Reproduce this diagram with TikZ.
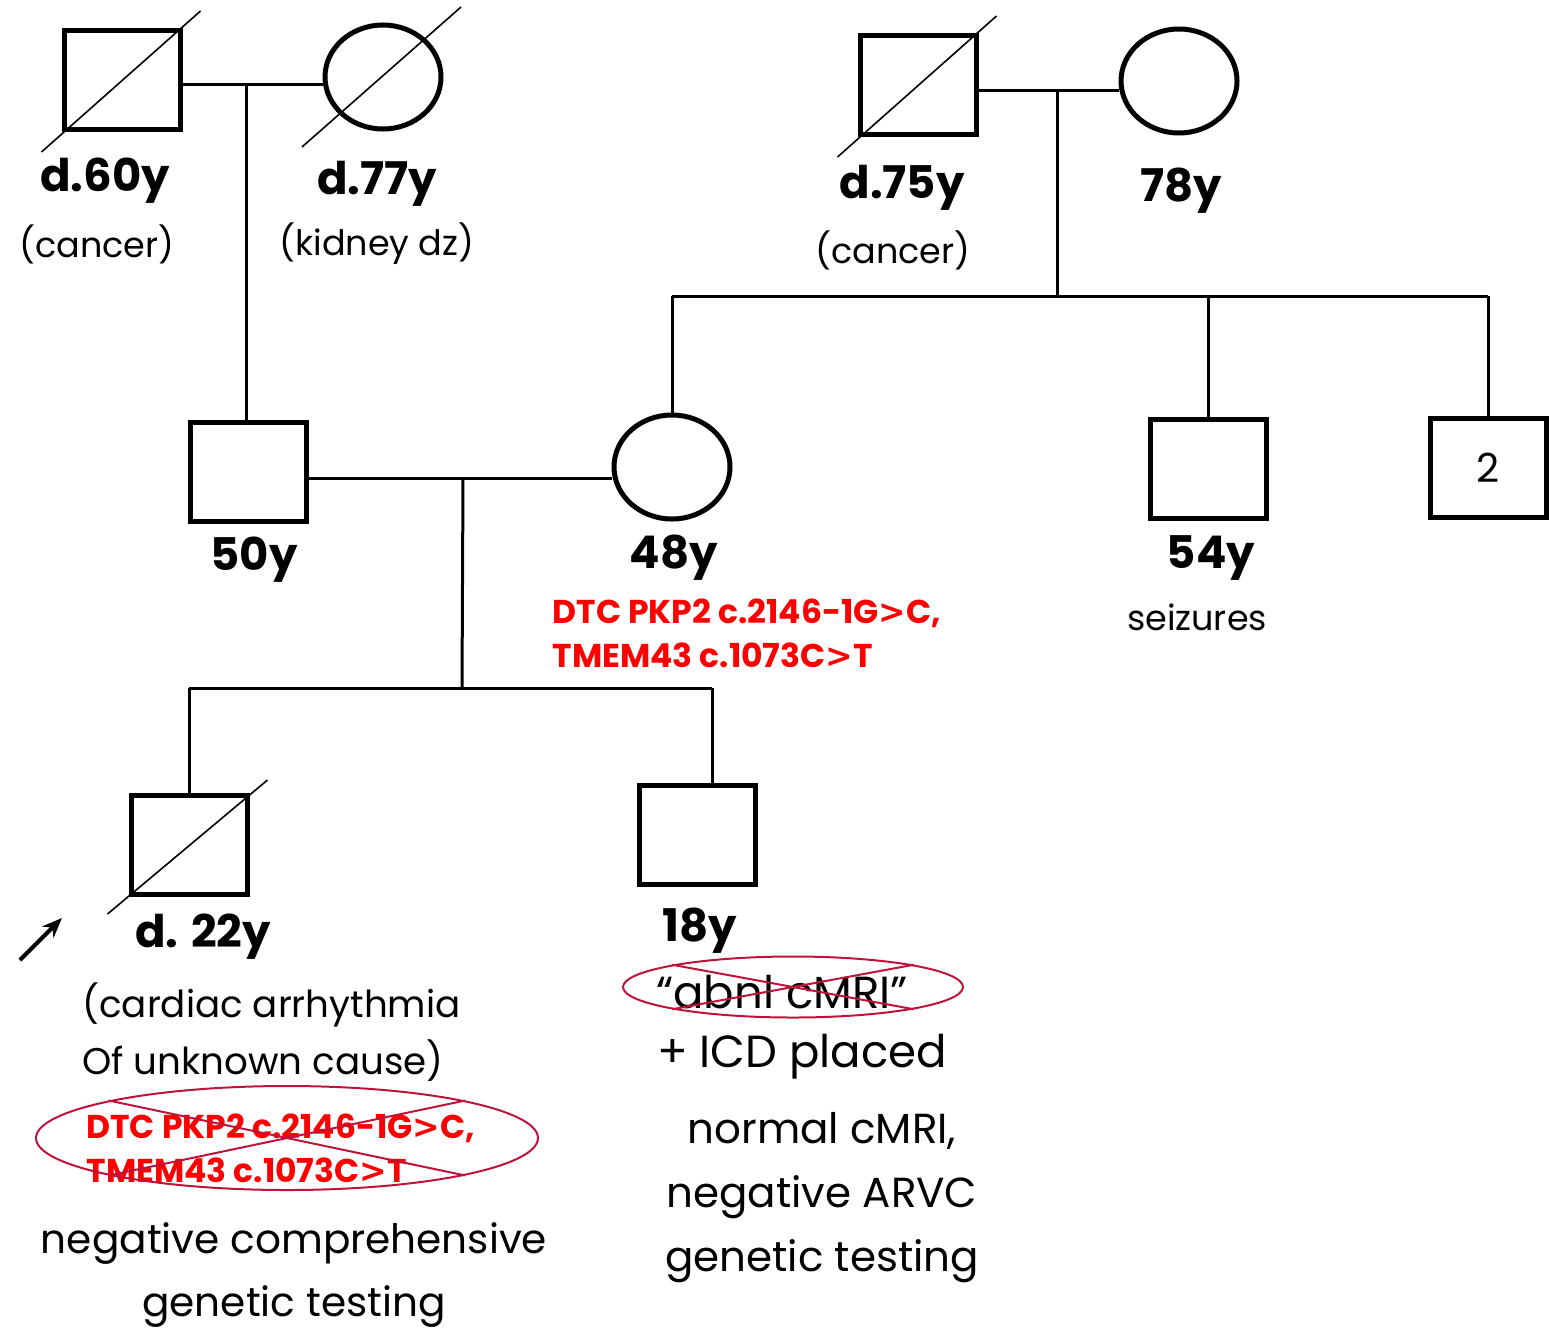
\documentclass[tikz,border=0pt]{standalone}
\usepackage{fontspec}
\setmainfont{Poppins}
\newfontfamily\signfont{DejaVu Sans}
\newcommand{\gtsign}{{\signfont\textgreater}}
\usetikzlibrary{shapes.geometric,calc,arrows.meta}
\definecolor{crossred}{RGB}{190,20,60}

\begin{document}
\begin{tikzpicture}[x=0.5pt,y=-0.5pt,line width=1.5pt]
    \tikzstyle{male node}=[rectangle,draw,line width=2.5pt,minimum width=58pt,minimum height=49.5pt,inner sep=0]
    \tikzstyle{female node}=[ellipse,draw,line width=2.5pt,minimum width=58pt,minimum height=52pt,inner sep=0]
    \tikzstyle{dead line}=[line width=0.8pt]
    \tikzstyle{age}=[font=\fontsize{22.5}{26}\selectfont\bfseries,inner sep=0]
    \tikzstyle{note}=[font=\fontsize{17.5}{20}\selectfont,inner sep=0]
    \tikzstyle{big note}=[font=\fontsize{21}{32}\selectfont,inner sep=0,align=center]
    \tikzstyle{gene}=[font=\fontsize{16.5}{22}\selectfont\bfseries,text=red,inner sep=0,align=left]
    \tikzstyle{crossed}=[ellipse,draw=crossred,line width=1pt,inner sep=0]

    \useasboundingbox (0,0) rectangle (1550,1333);

    % first generation
    \node[male node] (a1) at (122,80) {};
    \node[female node] (a2) at (383,77) {};
    \node[male node] (b1) at (918,85) {};
    \node[female node] (b2) at (1179,81) {};
    \draw[dead line] ($(a1.south west)+(-20,20)$) -- ($(a1.north east)+(18,-17)$);
    \draw[dead line] ($(a2)+(-81,70)$) -- ($(a2)+(78,-70)$);
    \draw[dead line] ($(b1.south west)+(-20,20)$) -- ($(b1.north east)+(18,-17)$);

    \node[age] (a1age) at (105,181) {d.60y};
    \node[note] (a1why) at (97,244) {(cancer)};
    \node[age] (a2age) at (377,184) {d.77y};
    \node[note] (a2why) at (377,244) {(kidney dz)};
    \node[age] (b1age) at (902,188) {d.75y};
    \node[note] (b1why) at (893,250) {(cancer)};
    \node[age] (b2age) at (1181,191) {78y};

    % second generation
    \node[male node] (c1) at (248,472) {};
    \node[female node] (c2) at (672,467) {};
    \node[male node] (c3) at (1208,469) {};
    \node[male node,font=\fontsize{20}{24}\selectfont] (c4) at (1488,468) {2};

    \node[age] (c1age) at (254,560) {50y};
    \node[age] (c2age) at (674,558) {48y};
    \node[gene,anchor=west] (c2gene) at (551,633) {DTC PKP2 c.2146-1G\gtsign C,\\TMEM43 c.1073C\gtsign T};
    \node[age] (c3age) at (1211,558) {54y};
    \node[note] (c3why) at (1197,617) {seizures};

    % third generation
    \node[male node] (d1) at (189,845) {};
    \node[male node] (d2) at (697,835) {};
    \draw[dead line] ($(d1.south west)+(-21,17)$) -- ($(d1.north east)+(18,-13)$);

    \coordinate (p0) at (20,960);
    \coordinate (p1) at (62,918);
    \draw[line width=2pt,-{Stealth[length=10pt,width=8pt]}] (p0) -- (p1);

    \node[age] (d1age) at (203,937) {d. 22y};
    \node[big note,anchor=west,align=left,font=\fontsize{18.6}{28.5}\selectfont] (d1why) at (81,1032) {(cardiac arrhythmia\\Of unknown cause)};
    \node[gene,anchor=west] (d1gene) at (85,1148) {DTC PKP2 c.2146-1G\gtsign C,\\TMEM43 c.1073C\gtsign T};
    \node[big note,font=\fontsize{20.3}{31.5}\selectfont] (d1test) at (294,1275) {negative comprehensive\\genetic testing};

    \node[age] (d2age) at (700,931) {18y};
    \node[big note,font=\fontsize{22.5}{26}\selectfont] (d2old) at (782,992) {“abnl cMRI”};
    \node[big note,font=\fontsize{22.5}{26}\selectfont] (d2icd) at (802,1057) {+ ICD placed};
    \node[big note] (d2test) at (822,1198) {normal cMRI,\\negative ARVC\\genetic testing};

    % crossed out results
    \node[crossed,minimum width=251pt,minimum height=52pt] (x1) at (287,1138) {};
    \draw[crossred,line width=1pt] (x1.north west) -- (x1.south east);
    \draw[crossred,line width=1pt] (x1.north east) -- (x1.south west);
    \node[crossed,minimum width=170pt,minimum height=30.5pt] (x2) at (793,987) {};
    \draw[crossred,line width=1pt] (x2.north west) -- (x2.south east);
    \draw[crossred,line width=1pt] (x2.north east) -- (x2.south west);

    % connecting lines
    \coordinate (m1) at (246,84);
    \draw (a1.east |- m1) -- (a2.west |- m1);
    \draw (m1) -- (m1 |- c1.north);

    \coordinate (m2) at (1057,90);
    \coordinate (s2) at (1057,296);
    \draw (b1.east |- m2) -- (b2.west |- m2);
    \draw (m2) -- (s2);
    \draw (c2.north |- s2) -- (c4.north |- s2);
    \draw (c2.north |- s2) -- (c2.north);
    \draw (c3.north |- s2) -- (c3.north);
    \draw (c4.north |- s2) -- (c4.north);

    \coordinate (m3) at (463,478);
    \coordinate (s3) at (462,688);
    \coordinate (s4) at (712,688);
    \draw (c1.east |- m3) -- (c2.west |- m3);
    \draw (m3) -- (s3);
    \draw (d1.north |- s3) -- (s4);
    \draw (d1.north |- s3) -- (d1.north);
    \draw (s4) -- (s4 |- d2.north);
\end{tikzpicture}
\end{document}
